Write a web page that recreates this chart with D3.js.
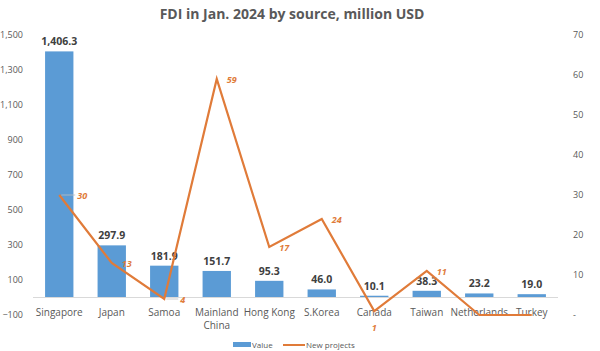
<!DOCTYPE html>
<html>
<head>
<meta charset="utf-8">
<script src="https://cdn.jsdelivr.net/npm/d3@7"></script>
<style>
  body { margin: 0; background: #fff; }
  text { font-family: "Open Sans", "Noto Sans", sans-serif; }
</style>
</head>
<body>
<div id="chart"></div>
<script>
// data
const sources = ["Singapore", "Japan", "Samoa", "Mainland China", "Hong Kong", "S.Korea", "Canada", "Taiwan", "Netherlands", "Turkey"];
const fdiValues = [1406.3, 297.9, 181.9, 151.7, 95.3, 46.0, 10.1, 38.3, 23.2, 19.0];
const newProjects = [30, 13, 4, 59, 17, 24, 1, 11, 0, 0];
const leftTicks = [-100, 100, 300, 500, 700, 900, 1100, 1300, 1500];
const rightTicks = [0, 10, 20, 30, 40, 50, 60, 70];

const width = 600, height = 351;
const margin = { top: 35, right: 42, bottom: 36, left: 33 };

const svg = d3.select("#chart")
    .append("svg")
    .attr("width", width)
    .attr("height", height);

const x = d3.scaleBand()
    .domain(sources)
    .range([margin.left, width - margin.right])
    .paddingInner(0.46)
    .paddingOuter(0.23);

const yLeft = d3.scaleLinear()
    .domain([-100, 1500])
    .range([height - margin.bottom, margin.top]);

const yRight = d3.scaleLinear()
    .domain([0, 70])
    .range([height - margin.bottom, margin.top]);

// title
svg.append("text")
    .attr("x", 292)
    .attr("y", 19)
    .attr("text-anchor", "middle")
    .style("font-size", "14px")
    .style("font-weight", "bold")
    .attr("fill", "#595959")
    .text("FDI in Jan. 2024 by source, million USD");

// left axis
const leftAxis = svg.append("g")
    .attr("transform", `translate(${margin.left - 7},0)`)
    .call(d3.axisLeft(yLeft).tickValues(leftTicks).tickSize(0).tickFormat(d3.format(",")));
leftAxis.select(".domain").remove();
leftAxis.selectAll("text").style("font-size", "9px").attr("fill", "#595959");

// right axis
const rightAxis = svg.append("g")
    .attr("transform", `translate(${width - margin.right + 12},0)`)
    .call(d3.axisRight(yRight).tickValues(rightTicks).tickSize(0)
        .tickFormat(d => d === 0 ? "-" : d));
rightAxis.select(".domain").remove();
rightAxis.selectAll("text").style("font-size", "9px").attr("fill", "#595959");

// bars
svg.selectAll("rect.bar")
    .data(sources)
    .enter()
    .append("rect")
    .attr("class", "bar")
    .attr("x", d => x(d))
    .attr("y", (d, i) => yLeft(fdiValues[i]))
    .attr("width", x.bandwidth())
    .attr("height", (d, i) => yLeft(0) - yLeft(fdiValues[i]))
    .attr("fill", "#5b9bd5");

// zero line
svg.append("line")
    .attr("x1", margin.left)
    .attr("x2", width - margin.right)
    .attr("y1", yLeft(0))
    .attr("y2", yLeft(0))
    .attr("stroke", "#d9d9d9")
    .attr("stroke-width", 1);

// bar labels
svg.selectAll("text.barlabel")
    .data(sources)
    .enter()
    .append("text")
    .attr("class", "barlabel")
    .attr("x", d => x(d) + x.bandwidth() / 2)
    .attr("y", (d, i) => yLeft(fdiValues[i]) - 6)
    .attr("text-anchor", "middle")
    .style("font-size", "10.5px")
    .style("font-weight", "bold")
    .attr("fill", "#404040")
    .text((d, i) => d3.format(",.1f")(fdiValues[i]));

// category labels
const cat = svg.selectAll("text.cat")
    .data(sources)
    .enter()
    .append("text")
    .attr("class", "cat")
    .attr("x", d => x(d) + x.bandwidth() / 2)
    .attr("y", 316)
    .attr("text-anchor", "middle")
    .style("font-size", "10px")
    .attr("fill", "#595959");
cat.each(function (d) {
    const words = d === "Mainland China" ? ["Mainland", "China"] : [d];
    words.forEach((w, k) => {
        d3.select(this).append("tspan")
            .attr("x", x(d) + x.bandwidth() / 2)
            .attr("dy", k === 0 ? 0 : 13)
            .text(w);
    });
});

// line
const cx = d => x(d) + x.bandwidth() / 2;
const line = d3.line()
    .x(d => cx(d))
    .y((d, i) => yRight(newProjects[i]));

svg.append("path")
    .datum(sources)
    .attr("d", line)
    .attr("fill", "none")
    .attr("stroke", "#e07b39")
    .attr("stroke-width", 2.2);

// line labels (some pushed aside with a leader line, as in the original)
const labelShift = { "Singapore": [18, 0], "Samoa": [16, 0], "Canada": [0, 16] };
const leaders = ["Singapore", "Samoa"];
const labelled = sources.filter((d, i) => newProjects[i] > 0);
const pv = d => newProjects[sources.indexOf(d)];

svg.selectAll("line.leader")
    .data(labelled.filter(d => leaders.includes(d)))
    .enter()
    .append("line")
    .attr("class", "leader")
    .attr("x1", d => cx(d) + 2)
    .attr("x2", d => cx(d) + labelShift[d][0] - 2)
    .attr("y1", d => yRight(pv(d)))
    .attr("y2", d => yRight(pv(d)))
    .attr("stroke", "#bfbfbf")
    .attr("stroke-width", 0.8);

svg.selectAll("text.linelabel")
    .data(labelled)
    .enter()
    .append("text")
    .attr("class", "linelabel")
    .attr("x", d => cx(d) + (labelShift[d] ? labelShift[d][0] : 10))
    .attr("y", d => yRight(pv(d)) + 3.5 + (labelShift[d] ? labelShift[d][1] : 0))
    .attr("text-anchor", d => d === "Canada" ? "middle" : "start")
    .style("font-size", "9px")
    .style("font-style", "italic")
    .style("font-weight", "bold")
    .attr("fill", "#e07b39")
    .text(d => pv(d));

// legend
const legend = svg.append("g").attr("transform", "translate(233,345)");
legend.append("rect")
    .attr("x", 0).attr("y", -3)
    .attr("width", 18).attr("height", 5)
    .attr("fill", "#5b9bd5");
legend.append("text")
    .attr("x", 19).attr("y", 3)
    .style("font-size", "8px")
    .attr("fill", "#595959")
    .text("Value");
legend.append("line")
    .attr("x1", 50).attr("x2", 72)
    .attr("y1", 0).attr("y2", 0)
    .attr("stroke", "#e07b39")
    .attr("stroke-width", 2);
legend.append("text")
    .attr("x", 73).attr("y", 3)
    .style("font-size", "8px")
    .attr("fill", "#595959")
    .text("New projects");
</script>
</body>
</html>
